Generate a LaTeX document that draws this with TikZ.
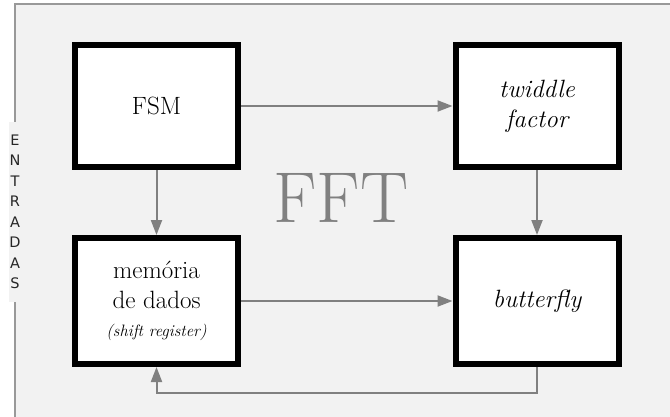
\documentclass[tikz,border=0pt]{standalone}
\usepackage{fontspec}
\newfontfamily\entfont{DejaVu Sans}
\usetikzlibrary{arrows.meta}
\definecolor{panel}{HTML}{F2F2F2}
\definecolor{frameline}{HTML}{999999}
\definecolor{wire}{HTML}{808080}
\begin{document}
\begin{tikzpicture}[x=1pt,y=-1pt,
  block/.style={draw=black, line width=6pt, fill=white, minimum width=163pt,
    minimum height=122pt, inner sep=0pt, align=center,
    font=\fontsize{25}{30}\selectfont},
  flow/.style={draw=wire, line width=2pt, -{Triangle[length=15pt,width=11pt]}}]
\useasboundingbox (0,0) rectangle (670,416);
% background panel
\path[fill=panel, draw=frameline, line width=1.2pt] (15,4) rectangle (690,440);
% blocks
\node[block] (fsm) at (156.5,106) {FSM};
\node[block] (tw) at (537,106) {\itshape twiddle\\\itshape factor};
\node[block, minimum height=126pt] (mem) at (156.5,301)
  {memória\\de dados\\[-2pt]{\fontsize{16.5}{16.5}\selectfont\itshape (shift register)}};
\node[block, minimum height=126pt] (bf) at (537,301) {\itshape butterfly};
\node[text=wire, font=\fontsize{72}{72}\selectfont] (fft) at (341,198) {FFT};
% input label on the left edge
\node[fill=panel, minimum width=12pt, minimum height=180pt, inner sep=0pt,
  align=center, font=\entfont\fontsize{14.5}{20.5}\selectfont, text=black!85]
  (in) at (15,212) {E\\N\\T\\R\\A\\D\\A\\S};
% connections
\draw[flow] (fsm) -- (tw);
\draw[flow] (fsm) -- (mem);
\draw[flow] (tw) -- (bf);
\draw[flow] (mem) -- (bf);
\coordinate (loopR) at (537,393);
\coordinate (loopL) at (156.5,393);
\draw[flow] (bf.south) -- (loopR) -- (loopL) -- (mem.south);
\end{tikzpicture}
\end{document}
